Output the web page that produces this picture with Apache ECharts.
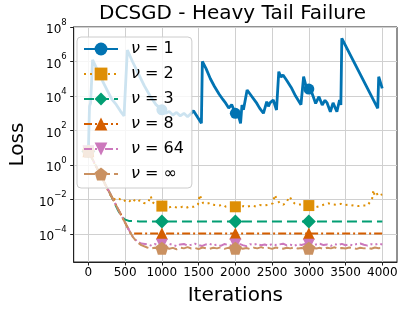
<!DOCTYPE html>
<html>
<head>
<meta charset="utf-8">
<script src="https://cdn.jsdelivr.net/npm/echarts@6/dist/echarts.min.js"></script>
<style>html,body{margin:0;padding:0;background:#fff}#c{width:407px;height:311px}</style>
</head>
<body>
<div id="c"></div>
<script>
// ---- data (loss values stored as log10(loss)) ----
const seriesNames = ['ν = 1', 'ν = 2', 'ν = 3', 'ν = 8', 'ν = 64', 'ν = ∞'];
const xTicks = [0, 500, 1000, 1500, 2000, 2500, 3000, 3500, 4000];
const yTickExponents = [-4, -2, 0, 2, 4, 6, 8];
const markerIters = [0, 1000, 2000, 3000];

const nu1Iter = [0, 15, 30, 57, 100, 150, 200, 260, 320, 380, 440, 485, 530, 600, 680, 760, 840, 920, 1000, 1050, 1100, 1150, 1200, 1250, 1300, 1350, 1400, 1430, 1538, 1551, 1600, 1660, 1716, 1780, 1830, 1871, 1910, 1950, 2000, 2040, 2071, 2090, 2110, 2160, 2227, 2293, 2330, 2382, 2427, 2450, 2471, 2516, 2560, 2591, 2620, 2649, 2700, 2760, 2820, 2893, 2929, 2960, 3000, 3040, 3093, 3138, 3182, 3220, 3249, 3293, 3330, 3382, 3418, 3436, 3449, 3938, 3951, 3999];
const nu1Log10Loss = [0.8, 3.4, 3.6, 6.1, 5.7, 5.3, 4.8, 4.3, 3.8, 3.5, 3.1, 2.85, 6.67, 6.0, 5.3, 4.6, 4.0, 3.5, 3.2, 3.0, 3.1, 2.9, 3.05, 2.85, 3.0, 2.8, 3.0, 3.15, 2.42, 6.0, 5.6, 5.0, 4.55, 4.1, 3.8, 3.57, 3.3, 3.5, 3.0, 2.9, 2.42, 3.48, 3.2, 4.35, 3.96, 3.57, 3.3, 3.0, 3.67, 3.4, 3.6, 3.77, 3.19, 5.41, 5.1, 5.22, 4.9, 4.5, 4.0, 3.5, 5.12, 4.6, 4.4, 4.2, 3.57, 3.96, 3.48, 3.75, 3.6, 3.09, 3.6, 3.09, 3.77, 3.48, 7.34, 3.29, 5.12, 4.44];

const nu2Iter = [0, 293, 340, 382, 420, 471, 520, 560, 600, 650, 700, 750, 782, 820, 849, 870, 920, 960, 1000, 1050, 1100, 1150, 1227, 1280, 1330, 1380, 1430, 1490, 1516, 1540, 1560, 1600, 1650, 1716, 1780, 1830, 1871, 1930, 2000, 2060, 2110, 2160, 2220, 2280, 2330, 2382, 2450, 2511, 2538, 2560, 2604, 2650, 2690, 2738, 2770, 2804, 2850, 2900, 2950, 3000, 3050, 3093, 3150, 3200, 3271, 3320, 3380, 3440, 3493, 3550, 3610, 3671, 3740, 3800, 3827, 3862, 3880, 3893, 3920, 3945, 3973, 3999];
const nu2Log10Loss = [0.8, -1.7, -1.95, -2.03, -1.95, -2.12, -2.0, -2.1, -1.95, -2.15, -2.05, -2.2, -2.22, -2.1, -1.8, -2.15, -2.3, -2.35, -2.38, -2.35, -2.45, -2.4, -2.5, -2.42, -2.48, -2.4, -2.42, -2.3, -1.72, -2.0, -2.2, -2.25, -2.2, -2.32, -2.35, -2.3, -2.42, -2.45, -2.42, -2.45, -2.38, -2.42, -2.35, -2.4, -2.32, -2.35, -2.3, -2.22, -1.72, -1.95, -2.22, -2.3, -2.2, -1.83, -2.05, -2.22, -2.3, -2.28, -2.35, -2.35, -2.4, -2.45, -2.38, -2.3, -2.22, -2.28, -2.3, -2.25, -2.32, -2.3, -2.35, -2.38, -2.35, -2.35, -2.32, -1.93, -1.45, -1.74, -1.6, -1.8, -1.74, -1.7];

const nu3Iter = [0, 293, 400, 450, 493, 550, 700, 1000, 2000, 3000, 4000];
const nu3Log10Loss = [0.8, -1.64, -2.6, -2.95, -3.15, -3.24, -3.27, -3.27, -3.27, -3.27, -3.27];

const nu8Iter = [0, 293, 540, 575, 1000, 2000, 3000, 4000];
const nu8Log10Loss = [0.8, -1.64, -3.67, -3.97, -3.97, -3.97, -3.97, -3.97];

const tailIter = [0, 293, 540, 604, 660, 720, 800, 850, 900, 950, 1000, 1050, 1100, 1150, 1200, 1250, 1300, 1350, 1400, 1450, 1500, 1550, 1600, 1650, 1700, 1750, 1800, 1850, 1900, 1950, 2000, 2050, 2100, 2150, 2200, 2250, 2300, 2350, 2400, 2450, 2500, 2550, 2600, 2650, 2700, 2750, 2800, 2850, 2900, 2950, 3000, 3050, 3100, 3150, 3200, 3250, 3300, 3350, 3400, 3450, 3500, 3550, 3600, 3650, 3700, 3750, 3800, 3850, 3900, 3950, 4000];
const nu64Log10Loss = [0.8, -1.64, -3.67, -4.16, -4.42, -4.55, -4.60, -4.66, -4.58, -4.64, -4.62, -4.68, -4.57, -4.63, -4.70, -4.60, -4.58, -4.66, -4.62, -4.56, -4.64, -4.69, -4.60, -4.57, -4.65, -4.61, -4.68, -4.58, -4.63, -4.66, -4.60, -4.56, -4.64, -4.70, -4.59, -4.62, -4.57, -4.65, -4.61, -4.67, -4.58, -4.63, -4.60, -4.56, -4.66, -4.62, -4.69, -4.59, -4.63, -4.57, -4.62, -4.67, -4.60, -4.56, -4.64, -4.61, -4.68, -4.58, -4.63, -4.57, -4.65, -4.60, -4.66, -4.58, -4.55, -4.62, -4.67, -4.59, -4.61, -4.56, -4.60];
const nuInfLog10Loss = [0.8, -1.64, -3.67, -4.16, -4.45, -4.64, -4.78, -4.84, -4.79, -4.86, -4.82, -4.77, -4.85, -4.80, -4.88, -4.79, -4.83, -4.76, -4.84, -4.81, -4.87, -4.78, -4.82, -4.85, -4.79, -4.83, -4.77, -4.86, -4.80, -4.84, -4.82, -4.78, -4.85, -4.81, -4.87, -4.79, -4.83, -4.76, -4.84, -4.80, -4.86, -4.78, -4.82, -4.85, -4.79, -4.83, -4.77, -4.84, -4.81, -4.86, -4.82, -4.78, -4.84, -4.80, -4.87, -4.79, -4.83, -4.77, -4.85, -4.81, -4.84, -4.78, -4.82, -4.86, -4.79, -4.83, -4.80, -4.85, -4.78, -4.82, -4.81];

// ---- chart ----
const colors = ['#0173b2', '#de8f05', '#029e73', '#d55e00', '#cc78bc', '#ca9161'];
const symbols = ['circle', 'rect', 'path://M5,0 L10,5 L5,10 L0,5 Z', 'triangle', 'path://M0,0 L10,0 L5,9 Z', 'path://M5,0 L10,3.7 L8.1,9.5 L1.9,9.5 L0,3.7 Z'];
const symbolSizes = [11, 11, 14, 12, 12, 13];
const lineTypes = ['solid', [2, 4], [10, 5], [8, 3, 2, 3], [8, 3, 2, 3, 2, 3], [11, 4]];
const lineWidths = [2.8, 2, 2, 2, 2, 2];
const iters = [nu1Iter, nu2Iter, nu3Iter, nu8Iter, tailIter, tailIter];
const values = [nu1Log10Loss, nu2Log10Loss, nu3Log10Loss, nu8Log10Loss, nu64Log10Loss, nuInfLog10Loss];

const series = seriesNames.map((name, k) => ({
  name: name,
  type: 'line',
  data: iters[k].map((x, i) => [x, values[k][i]]),
  color: colors[k],
  symbol: symbols[k],
  showAllSymbol: true,
  symbolSize: (v) => markerIters.indexOf(v[0]) >= 0 ? symbolSizes[k] : 0,
  itemStyle: {color: colors[k], opacity: 1},
  lineStyle: {color: colors[k], width: lineWidths[k], type: lineTypes[k]},
  animation: false,
  silent: true
}));

const font = 'DejaVu Sans';
const chart = echarts.init(document.getElementById('c'), null, {renderer: 'canvas'});
chart.setOption({
  animation: false,
  backgroundColor: '#ffffff',
  title: {
    text: 'DCSGD - Heavy Tail Failure',
    left: 232.5, top: 4, textAlign: 'center', padding: 0,
    textStyle: {fontFamily: font, fontSize: 20, fontWeight: 'normal', color: '#000'}
  },
  grid: {left: 68, right: 10, top: 27, bottom: 49, show: true, borderColor: '#222', borderWidth: 1, backgroundColor: 'transparent'},
  legend: {
    left: 77, top: 37, orient: 'vertical',
    data: seriesNames,
    itemWidth: 34, itemHeight: 16, itemGap: 9,
    padding: [4, 8, 6, 6],
    backgroundColor: 'rgba(255,255,255,0.8)',
    borderColor: '#cccccc', borderWidth: 1, borderRadius: 4,
    selectedMode: false,
    formatter: (n) => '{i|ν}' + n.slice(1),
    textStyle: {fontFamily: font, fontSize: 16, color: '#000', padding: [0, 0, 0, 8],
      rich: {i: {fontFamily: font, fontStyle: 'italic', fontSize: 16, color: '#000'}}}
  },
  xAxis: {
    type: 'value', min: -200, max: 4200,
    name: 'Iterations', nameLocation: 'middle', nameGap: 24,
    nameTextStyle: {fontFamily: font, fontSize: 20, color: '#000'},
    axisLine: {show: true, onZero: false, lineStyle: {color: '#222', width: 1}},
    axisTick: {show: true, length: 3.5, lineStyle: {color: '#222'}, customValues: xTicks},
    axisLabel: {fontFamily: font, fontSize: 12, color: '#000', margin: 5, customValues: xTicks,
      formatter: (v) => String(Math.round(v))},
    splitLine: {show: true, lineStyle: {color: '#d0d0d0', width: 1}}
  },
  yAxis: {
    type: 'value', min: -5.62, max: 8.0,
    name: 'Loss', nameLocation: 'middle', nameGap: 41, nameRotate: 90,
    nameTextStyle: {fontFamily: font, fontSize: 20, color: '#000'},
    axisLine: {show: true, onZero: false, lineStyle: {color: '#222', width: 1}},
    axisTick: {show: true, length: 3.5, lineStyle: {color: '#222'}, customValues: yTickExponents},
    axisLabel: {
      fontFamily: font, fontSize: 12, color: '#000', margin: 7, customValues: yTickExponents,
      formatter: (v) => '{b|10}{s|' + String(Math.round(v)).replace('-', '−') + '}',
      rich: {
        b: {fontFamily: font, fontSize: 12, color: '#000', verticalAlign: 'bottom', lineHeight: 18},
        s: {fontFamily: font, fontSize: 8.5, color: '#000', verticalAlign: 'top', lineHeight: 18}
      }
    },
    splitLine: {show: true, lineStyle: {color: '#d0d0d0', width: 1}}
  },
  series: series
});
</script>
</body>
</html>
